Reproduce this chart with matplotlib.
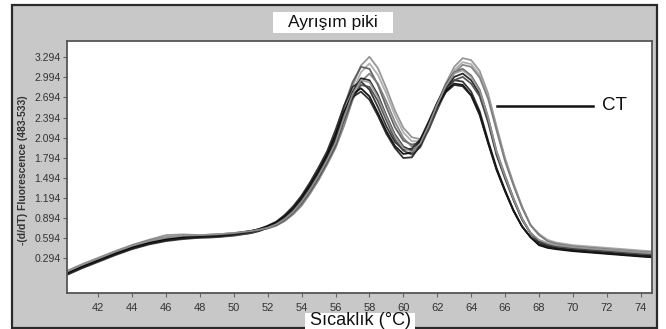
import matplotlib
matplotlib.use("Agg")
import matplotlib.pyplot as plt
from matplotlib.patches import Rectangle

# ---------------- data ----------------
temps = [40.2, 41, 42, 43, 44, 45, 46, 47, 48, 49, 50, 51, 51.5,
         52, 52.5, 53, 53.5, 54, 54.5, 55, 55.5, 56, 56.5, 57, 57.5, 58,
         58.5, 59, 59.5, 60, 60.5, 61, 61.5, 62, 62.5, 63, 63.5, 64, 64.5,
         65, 65.5, 66, 66.5, 67, 67.5, 68,
         68.5, 69, 70, 71, 72, 73, 74, 74.6]

curve_01 = [0.10, 0.19, 0.29, 0.39, 0.49, 0.57, 0.64, 0.65, 0.64, 0.65, 0.67, 0.70, 0.72,
            0.75, 0.80, 0.87, 0.98, 1.13, 1.32, 1.54, 1.80, 2.08, 2.44, 2.86, 3.17, 3.30,
            3.13, 2.83, 2.50, 2.24, 2.10, 2.07, 2.27, 2.59, 2.90, 3.15, 3.28, 3.25, 3.09,
            2.75, 2.26, 1.79, 1.41, 1.07, 0.79, 0.65,
            0.56, 0.52, 0.48, 0.46, 0.44, 0.42, 0.40, 0.39]
curve_02 = [0.07, 0.16, 0.27, 0.37, 0.46, 0.53, 0.58, 0.61, 0.62, 0.64, 0.66, 0.69, 0.71,
            0.74, 0.79, 0.86, 0.97, 1.11, 1.29, 1.51, 1.75, 2.02, 2.37, 2.77, 3.07, 3.20,
            3.03, 2.75, 2.43, 2.17, 2.04, 2.04, 2.24, 2.54, 2.85, 3.10, 3.22, 3.19, 3.03,
            2.71, 2.22, 1.76, 1.39, 1.06, 0.79, 0.66,
            0.57, 0.53, 0.49, 0.47, 0.45, 0.43, 0.41, 0.40]
curve_03 = [0.06, 0.15, 0.25, 0.35, 0.44, 0.51, 0.56, 0.59, 0.60, 0.61, 0.64, 0.68, 0.72,
            0.76, 0.82, 0.90, 1.02, 1.19, 1.38, 1.61, 1.86, 2.14, 2.55, 2.92, 3.15, 3.12,
            2.88, 2.55, 2.25, 2.05, 1.99, 2.02, 2.30, 2.61, 2.89, 3.07, 3.12, 3.02, 2.81,
            2.40, 1.89, 1.53, 1.19, 0.89, 0.67, 0.56,
            0.51, 0.48, 0.45, 0.43, 0.41, 0.39, 0.37, 0.36]
curve_04 = [0.11, 0.20, 0.30, 0.40, 0.49, 0.56, 0.61, 0.63, 0.64, 0.65, 0.67, 0.70, 0.72,
            0.74, 0.78, 0.85, 0.95, 1.08, 1.26, 1.46, 1.69, 1.94, 2.27, 2.65, 2.93, 3.05,
            2.90, 2.63, 2.33, 2.09, 1.96, 2.02, 2.21, 2.52, 2.82, 3.06, 3.18, 3.15, 2.99,
            2.67, 2.20, 1.74, 1.38, 1.05, 0.79, 0.64,
            0.55, 0.51, 0.47, 0.45, 0.43, 0.41, 0.39, 0.38]
curve_05 = [0.07, 0.16, 0.26, 0.36, 0.45, 0.52, 0.57, 0.60, 0.61, 0.62, 0.64, 0.67, 0.70,
            0.75, 0.80, 0.88, 0.99, 1.15, 1.33, 1.54, 1.78, 2.04, 2.42, 2.77, 2.98, 2.95,
            2.73, 2.42, 2.14, 1.96, 1.90, 1.98, 2.25, 2.55, 2.82, 3.00, 3.05, 2.95, 2.75,
            2.35, 1.85, 1.50, 1.17, 0.88, 0.67, 0.53,
            0.48, 0.45, 0.42, 0.40, 0.38, 0.36, 0.34, 0.33]
curve_06 = [0.09, 0.18, 0.28, 0.38, 0.47, 0.54, 0.59, 0.62, 0.63, 0.64, 0.66, 0.70, 0.73,
            0.78, 0.84, 0.94, 1.07, 1.23, 1.43, 1.65, 1.89, 2.21, 2.57, 2.85, 2.93, 2.81,
            2.55, 2.26, 2.03, 1.91, 1.93, 2.07, 2.34, 2.62, 2.84, 2.95, 2.93, 2.78, 2.49,
            2.05, 1.64, 1.31, 1.01, 0.77, 0.61, 0.50,
            0.46, 0.44, 0.41, 0.39, 0.37, 0.35, 0.33, 0.32]
curve_07 = [0.05, 0.14, 0.24, 0.34, 0.43, 0.50, 0.55, 0.58, 0.60, 0.61, 0.63, 0.67, 0.71,
            0.75, 0.79, 0.87, 0.98, 1.12, 1.30, 1.50, 1.73, 1.98, 2.35, 2.68, 2.88, 2.85,
            2.64, 2.35, 2.07, 1.90, 1.84, 1.95, 2.22, 2.51, 2.78, 2.95, 3.00, 2.90, 2.71,
            2.32, 1.83, 1.48, 1.16, 0.87, 0.67, 0.55,
            0.50, 0.47, 0.44, 0.42, 0.40, 0.38, 0.36, 0.35]
curve_08 = [0.08, 0.17, 0.27, 0.37, 0.46, 0.53, 0.58, 0.61, 0.62, 0.63, 0.66, 0.70, 0.73,
            0.77, 0.83, 0.92, 1.04, 1.20, 1.39, 1.60, 1.83, 2.14, 2.48, 2.74, 2.83, 2.71,
            2.46, 2.19, 1.97, 1.85, 1.87, 2.04, 2.31, 2.58, 2.79, 2.90, 2.88, 2.73, 2.45,
            2.02, 1.62, 1.30, 1.00, 0.77, 0.61, 0.49,
            0.45, 0.43, 0.40, 0.38, 0.36, 0.34, 0.32, 0.31]
curve_09 = [0.06, 0.15, 0.25, 0.35, 0.44, 0.51, 0.56, 0.59, 0.61, 0.62, 0.65, 0.69, 0.72,
            0.76, 0.82, 0.91, 1.03, 1.19, 1.37, 1.58, 1.80, 2.10, 2.44, 2.70, 2.78, 2.66,
            2.42, 2.15, 1.94, 1.79, 1.80, 1.98, 2.29, 2.56, 2.77, 2.88, 2.86, 2.72, 2.43,
            2.01, 1.61, 1.29, 1.00, 0.77, 0.61, 0.50,
            0.46, 0.44, 0.41, 0.39, 0.37, 0.35, 0.33, 0.32]
curve_10 = [0.10, 0.19, 0.29, 0.39, 0.48, 0.55, 0.60, 0.63, 0.64, 0.65, 0.67, 0.70, 0.72,
            0.75, 0.80, 0.88, 0.99, 1.14, 1.32, 1.53, 1.76, 2.02, 2.40, 2.74, 2.95, 2.92,
            2.70, 2.40, 2.12, 1.94, 1.88, 2.01, 2.28, 2.59, 2.86, 3.05, 3.10, 3.00, 2.79,
            2.39, 1.88, 1.52, 1.18, 0.89, 0.67, 0.57,
            0.52, 0.49, 0.46, 0.44, 0.42, 0.40, 0.38, 0.37]

curves = [curve_01, curve_02, curve_03, curve_04, curve_05,
          curve_06, curve_07, curve_08, curve_09, curve_10]
curve_colors = ['#8c8c8c', '#a6a6a6', '#555555', '#7a7a7a', '#151515',
                '#222222', '#444444', '#000000', '#1a1a1a', '#9a9a9a']

x_ticks = [42, 44, 46, 48, 50, 52, 54, 56, 58, 60, 62, 64, 66, 68, 70, 72, 74]
y_ticks = [0.294, 0.594, 0.894, 1.194, 1.494, 1.794, 2.094, 2.394, 2.694, 2.994, 3.294]
y_tick_labels = ['0.294', '0.594', '0.894', '1.194', '1.494', '1.794',
                 '2.094', '2.394', '2.694', '2.994', '3.294']

title_text = 'Ayrışım piki'
x_label = 'Sıcaklık (°C)'
y_label = '-(d/dT) Fluorescence (483-533)'
annot_text = 'CT'
annot_line_x = [65.5, 71.2]
annot_y = 2.57

# ---------------- figure ----------------
W, H = 666, 329
plt.rcParams['font.family'] = ['Liberation Sans', 'DejaVu Sans']
fig = plt.figure(figsize=(W / 100, H / 100), dpi=100)
fig.patch.set_facecolor('white')


def fx(px):
    return px / W


def fy(py):
    return 1 - py / H


# outer grey panel
fig.add_artist(Rectangle((fx(12), fy(328)), fx(657) - fx(12), fy(5) - fy(328),
                         transform=fig.transFigure, facecolor='#c8c8c8',
                         edgecolor='#2a2a2a', linewidth=1.6, zorder=0))

ax = fig.add_axes([fx(66.7), fy(293), fx(651.7) - fx(66.7), fy(40.7) - fy(293)])
ax.set_facecolor('white')
for c, col in zip(curves, curve_colors):
    ax.plot(temps, c, color=col, lw=1.3, alpha=0.9, solid_joinstyle='round')

ax.set_xlim(40.14, 74.65)
ax.set_ylim(-0.224, 3.54)
ax.set_xticks(x_ticks)
ax.set_xticklabels([str(t) for t in x_ticks], fontsize=8, color='#333333')
ax.set_yticks(y_ticks)
ax.set_yticklabels(y_tick_labels, fontsize=7.5, color='#333333')
ax.tick_params(axis='both', direction='out', length=3, width=0.8, color='#666666')
ax.tick_params(axis='x', pad=4)
ax.tick_params(axis='y', pad=1.5)
for sp in ax.spines.values():
    sp.set_color('#555555')
    sp.set_linewidth(1.3)

# CT annotation
ax.plot(annot_line_x, [annot_y, annot_y], color='#111111', lw=1.8)
ax.text(71.7, annot_y + 0.01, annot_text, fontsize=13.5, va='center', ha='left',
        color='#111111')

# title box
fig.add_artist(Rectangle((fx(273), fy(33)), fx(393) - fx(273), fy(12) - fy(33),
                         transform=fig.transFigure, facecolor='white',
                         edgecolor='none', zorder=5))
fig.text(fx(333), fy(22.5), title_text, fontsize=12.5, ha='center', va='center',
         color='#111111', zorder=6)

# x label box
fig.add_artist(Rectangle((fx(305), 0), fx(415) - fx(305), fy(313),
                         transform=fig.transFigure, facecolor='white',
                         edgecolor='none', zorder=5))
fig.text(fx(360), fy(325), x_label, fontsize=13, ha='center', va='baseline',
         color='#111111', zorder=6)

# y label
fig.text(fx(23), fy(170), y_label, fontsize=7.5, fontweight='bold', rotation=90,
         ha='center', va='center', color='#333333')

fig.savefig('out.png', dpi=100, facecolor='white')
